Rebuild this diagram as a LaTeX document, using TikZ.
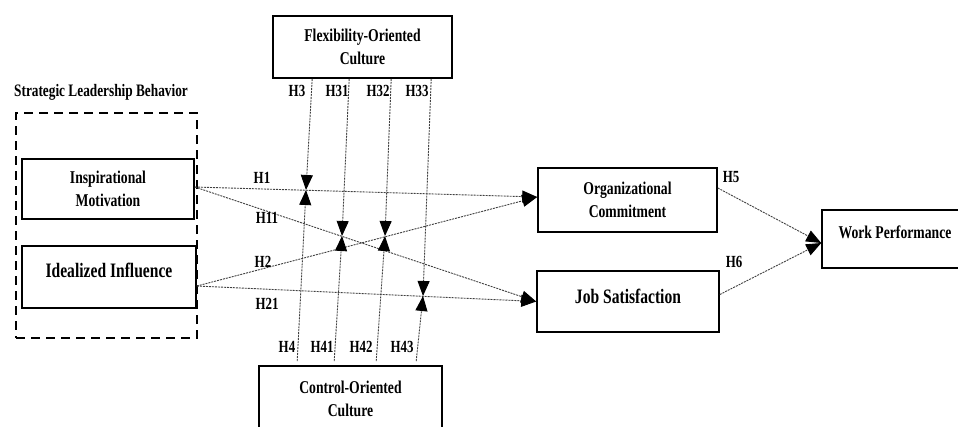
\documentclass[tikz,border=0pt]{standalone}
\usepackage{fontspec}
\setmainfont{Liberation Serif}[FakeStretch=0.76]
\usetikzlibrary{arrows.meta,calc,positioning}

\begin{document}
\begin{tikzpicture}[x=1pt, y=-1pt,
      box/.style={draw, line width=1.6pt, align=center, inner sep=2pt, font=\bfseries\fontsize{18}{23}\selectfont},
      bigbox/.style={box, font=\bfseries\fontsize{20.5}{23}\selectfont},
      grp/.style={draw, line width=1.4pt, dash pattern=on 9pt off 6pt},
      hlbl/.style={font=\bfseries\fontsize{17}{18}\selectfont, inner sep=0pt},
      link/.style={draw=black!75, line width=0.9pt, dash pattern=on 2pt off 1pt, -{Triangle[length=15pt, width=12pt, black]}}
    ]
      \clip (0,0) rectangle (958,426);
      \fill[white] (0,0) rectangle (958,426);

      \node[box, minimum width=179, minimum height=62] (foc) at (362.5,47) {Flexibility-Oriented\\Culture};
      \node[box, minimum width=183, minimum height=66] (coc) at (350.5,399) {Control-Oriented\\Culture};

      \node[font=\bfseries\fontsize{17.5}{20}\selectfont] (slbtext) at (101,92) {Strategic Leadership Behavior};
      \node[grp, minimum width=181, minimum height=225] (slb) at (106.5,225.5) {};

      \node[box, minimum width=172, minimum height=60] (im) at (108,189) {Inspirational\\Motivation};
      \node[bigbox, minimum width=174, minimum height=62, text depth=14pt] (ii) at (109,277) {Idealized Influence};

      \node[box, minimum width=179, minimum height=64] (oc) at (627.5,200) {Organizational\\Commitment};
      \node[bigbox, minimum width=182, minimum height=61, text depth=10pt] (js) at (628,301.5) {Job Satisfaction};
      \node[box, minimum width=146, minimum height=58, text depth=14pt] (wp) at (895,239) {Work Performance};

      \draw[link] ([yshift=2pt]im.east) -- ([yshift=3pt]oc.west);
      \draw[link] ([yshift=2pt]im.east) -- (js.west);
      \draw[link] ([yshift=-9pt]ii.east) -- ([yshift=3pt]oc.west);
      \draw[link] ([yshift=-9pt]ii.east) -- (js.west);
      \draw[link] ([yshift=12pt]oc.east) -- ([yshift=-4pt]wp.west);
      \draw[link] ([yshift=7pt]js.east) -- ([yshift=-4pt]wp.west);

      \coordinate (m1) at (306,190);
      \coordinate (m2) at (342,236);
      \coordinate (m3) at (385,236);
      \coordinate (m4) at (423,296);
      \foreach \dx/\t in {40/m1,77/m2,119/m3,159/m4}{
        \draw[link] ($(foc.south west)+(\dx,0)$) -- (\t);
        \draw[link] ($(coc.north west)+(\dx-1,-4)$) -- (\t);
      }

      \node[hlbl] (h1) at (262,178) {H1};
      \node[hlbl] (h11) at (267,218) {H11};
      \node[hlbl] (h2) at (263,262) {H2};
      \node[hlbl] (h21) at (267,304) {H21};
      \node[hlbl] (h3) at (297,91) {H3};
      \node[hlbl] (h31) at (337,91) {H31};
      \node[hlbl] (h32) at (378,91) {H32};
      \node[hlbl] (h33) at (417,91) {H33};
      \node[hlbl] (h4) at (287,347) {H4};
      \node[hlbl] (h41) at (322,347) {H41};
      \node[hlbl] (h42) at (361,347) {H42};
      \node[hlbl] (h43) at (402,347) {H43};
      \node[hlbl] (h5) at (731,177) {H5};
      \node[hlbl] (h6) at (734,262) {H6};
    \end{tikzpicture}
\end{document}
